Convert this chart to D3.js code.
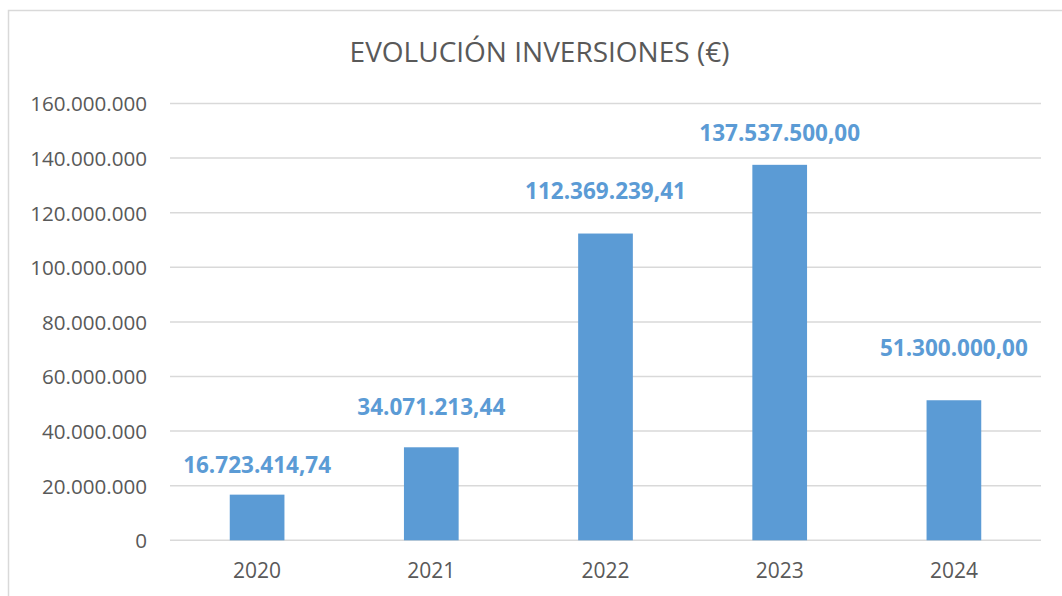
<!DOCTYPE html>
<html>
<head>
<meta charset="utf-8">
<script src="https://cdn.jsdelivr.net/npm/d3@7"></script>
<style>
  html, body { margin: 0; padding: 0; background: #fff; }
  svg { display: block; }
  text { font-family: "Open Sans", "Noto Sans", sans-serif; }
</style>
</head>
<body>
<svg id="chart" width="1062" height="596"></svg>
<script>
// ---- data ----
const categories = ["2020", "2021", "2022", "2023", "2024"];
const values = [16723414.74, 34071213.44, 112369239.41, 137537500.00, 51300000.00];
const valueLabels = ["16.723.414,74", "34.071.213,44", "112.369.239,41", "137.537.500,00", "51.300.000,00"];
const yTicks = [0, 20000000, 40000000, 60000000, 80000000, 100000000, 120000000, 140000000, 160000000];
const yTickLabels = ["0", "20.000.000", "40.000.000", "60.000.000", "80.000.000", "100.000.000", "120.000.000", "140.000.000", "160.000.000"];
const title = "EVOLUCIÓN INVERSIONES (€)";

// ---- layout ----
const W = 1062, H = 596;
const plot = { left: 170, right: 1041, top: 103.5, bottom: 540.3 };
const labelLift = [22, 32, 35, 23.6, 44]; // manual data-label placement above bars

const svg = d3.select("#chart");

svg.append("rect")
  .attr("x", 8.5).attr("y", 10.5)
  .attr("width", 1200).attr("height", 800)
  .attr("fill", "#fff")
  .attr("stroke", "#D9D9D9").attr("stroke-width", 1.5);

const x = d3.scaleBand()
  .domain(categories)
  .range([plot.left, plot.right])
  .paddingInner(0.686)
  .paddingOuter(0.343);

const y = d3.scaleLinear()
  .domain([0, 160000000])
  .range([plot.bottom, plot.top]);

// gridlines
svg.append("g")
  .selectAll("line")
  .data(yTicks)
  .join("line")
  .attr("x1", plot.left).attr("x2", plot.right)
  .attr("y1", d => y(d)).attr("y2", d => y(d))
  .attr("stroke", "#D9D9D9").attr("stroke-width", 1.5);

// y axis
const yAxis = d3.axisLeft(y)
  .tickValues(yTicks)
  .tickSize(0)
  .tickPadding(0)
  .tickFormat((d, i) => yTickLabels[i]);
const gy = svg.append("g")
  .attr("transform", `translate(147,0)`)
  .call(yAxis);
gy.select(".domain").remove();
gy.selectAll("text")
  .attr("fill", "#595959")
  .style("font-family", "'Open Sans', sans-serif")
  .style("font-size", "20.6px")
  .attr("dy", "0.36em");

// x axis
const xAxis = d3.axisBottom(x).tickSize(0).tickPadding(0);
const gx = svg.append("g")
  .attr("transform", `translate(0,${plot.bottom})`)
  .call(xAxis);
gx.select(".domain").remove();
gx.selectAll("text")
  .attr("fill", "#595959")
  .style("font-family", "'Open Sans', sans-serif")
  .style("font-size", "21px")
  .attr("y", 37.7)
  .attr("dy", 0);

// bars
svg.append("g")
  .selectAll("rect")
  .data(values)
  .join("rect")
  .attr("x", (d, i) => x(categories[i]))
  .attr("width", x.bandwidth())
  .attr("y", d => y(d))
  .attr("height", d => y(0) - y(d))
  .attr("fill", "#5B9BD5");

// data labels
svg.append("g")
  .selectAll("text")
  .data(values)
  .join("text")
  .attr("x", (d, i) => x(categories[i]) + x.bandwidth() / 2)
  .attr("y", (d, i) => y(d) - labelLift[i])
  .attr("text-anchor", "middle")
  .attr("fill", "#5B9BD5")
  .style("font-size", "22.5px")
  .style("font-weight", "bold")
  .text((d, i) => valueLabels[i]);

// title
svg.append("text")
  .attr("x", 539.5)
  .attr("y", 61.7)
  .attr("text-anchor", "middle")
  .attr("fill", "#595959")
  .style("font-size", "28px")
  .text(title);
</script>
</body>
</html>
